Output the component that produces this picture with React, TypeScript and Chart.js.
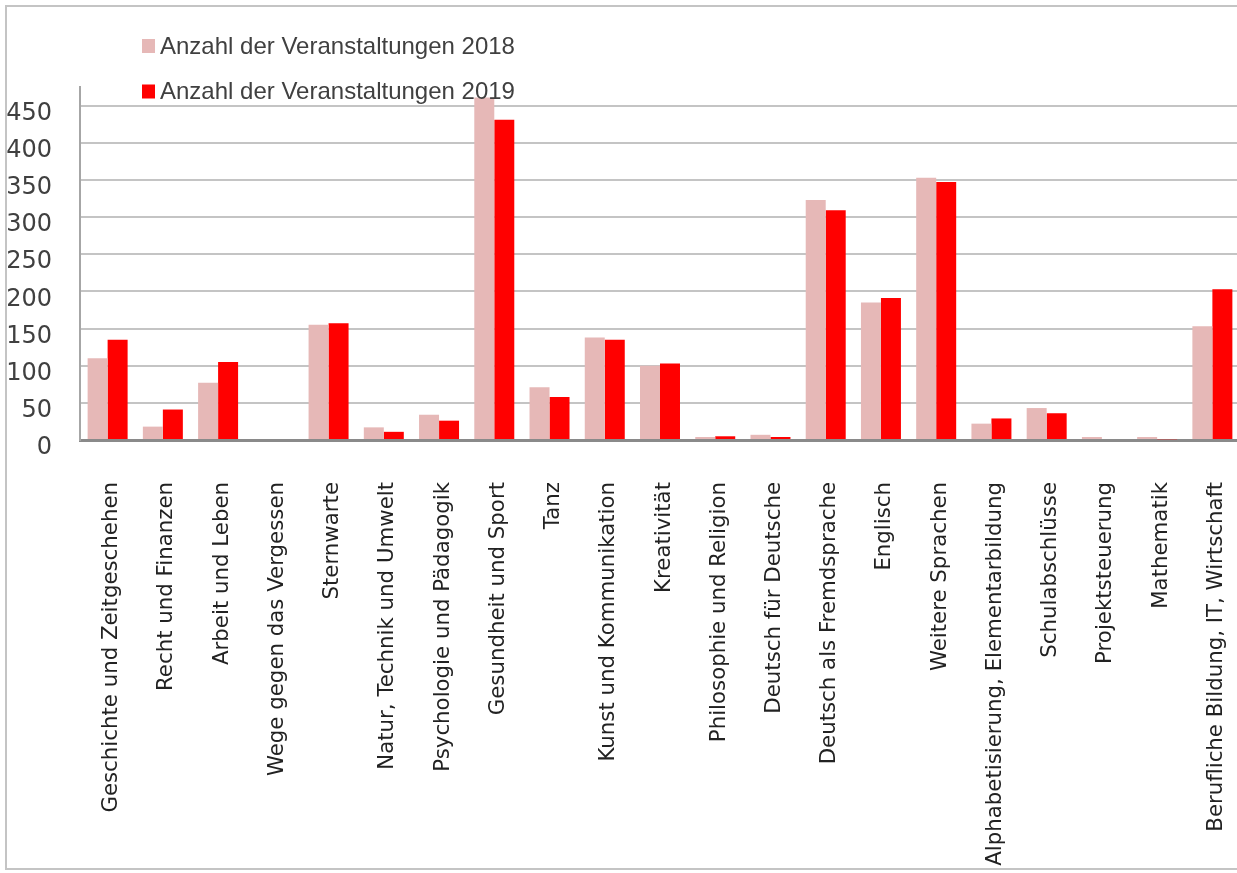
import React, { useEffect, useRef } from "react";
import { Chart, registerables } from "chart.js";

Chart.register(...registerables);

const categories: string[] = [
  "Geschichte und Zeitgeschehen",
  "Recht und Finanzen",
  "Arbeit und Leben",
  "Wege gegen das Vergessen",
  "Sternwarte",
  "Natur, Technik und Umwelt",
  "Psychologie und Pädagogik",
  "Gesundheit und Sport",
  "Tanz",
  "Kunst und Kommunikation",
  "Kreativität",
  "Philosophie und Religion",
  "Deutsch für Deutsche",
  "Deutsch als Fremdsprache",
  "Englisch",
  "Weitere Sprachen",
  "Alphabetisierung, Elementarbildung",
  "Schulabschlüsse",
  "Projektsteuerung",
  "Mathematik",
  "Berufliche Bildung, IT, Wirtschaft",
];

const values2018: number[] = [110, 18, 77, 0, 155, 17, 34, 461, 71, 138, 100, 4, 7, 323, 185, 353, 22, 43, 4, 4, 153];
const values2019: number[] = [135, 41, 105, 0, 157, 11, 26, 431, 58, 135, 103, 5, 4, 309, 191, 347, 29, 36, 0, 1, 203];

const seriesLabels: string[] = ["Anzahl der Veranstaltungen 2018", "Anzahl der Veranstaltungen 2019"];
const seriesColors: string[] = ["#E6B8B7", "#FF0000"];

const yMax = 475;
const yTicks: number[] = [0, 50, 100, 150, 200, 250, 300, 350, 400, 450];

const stackedLegend = {
  id: "stackedLegend",
  afterDraw(chart: any) {
    const ctx = chart.ctx;
    ctx.save();
    chart.data.datasets.forEach((ds: any, i: number) => {
      const top = 39 + i * 45.5;
      ctx.fillStyle = ds.backgroundColor;
      ctx.fillRect(142, top, 13, 14);
      ctx.fillStyle = "#404040";
      ctx.font = "24px 'Liberation Sans', Arial, sans-serif";
      ctx.textAlign = "left";
      ctx.textBaseline = "alphabetic";
      ctx.fillText(ds.label, 160, top + 14.5);
    });
    ctx.restore();
  },
};

export default function App() {
  const canvasRef = useRef<HTMLCanvasElement | null>(null);

  useEffect(() => {
    if (!canvasRef.current) return;
    const chart = new Chart(canvasRef.current, {
      type: "bar",
      data: {
        labels: categories,
        datasets: [
          {
            label: seriesLabels[0],
            data: values2018,
            backgroundColor: seriesColors[0],
            borderWidth: 0,
            categoryPercentage: 0.724,
            barPercentage: 1,
          },
          {
            label: seriesLabels[1],
            data: values2019,
            backgroundColor: seriesColors[1],
            borderWidth: 0,
            categoryPercentage: 0.724,
            barPercentage: 1,
          },
        ],
      },
      options: {
        animation: false,
        responsive: true,
        maintainAspectRatio: false,
        layout: { padding: { top: 87, left: 0, right: 0, bottom: 0 } },
        plugins: {
          legend: { display: false },
          tooltip: { enabled: false },
        },
        scales: {
          x: {
            grid: { display: false, drawTicks: false },
            border: { display: true, color: "#8a8a8a", width: 3 },
            ticks: {
              autoSkip: false,
              minRotation: 90,
              maxRotation: 90,
              padding: 42,
              labelOffset: 4,
              color: "#222222",
              font: { family: "'DejaVu Sans', sans-serif", size: 21.3 },
            },
            afterFit: (scale: any) => {
              scale.height = 433;
              scale.paddingLeft = 0;
              scale.paddingRight = 0;
            },
          },
          y: {
            min: 0,
            max: yMax,
            grid: {
              drawTicks: false,
              lineWidth: 2,
              color: (ctx: any) => (ctx.tick && ctx.tick.value === 0 ? "rgba(0,0,0,0)" : "#c4c4c4"),
            },
            border: { display: true, color: "#a6a6a6", width: 2 },
            ticks: {
              padding: 28,
              labelOffset: 8,
              color: "#404040",
              font: { family: "'DejaVu Sans', sans-serif", size: 24 },
            },
            afterBuildTicks: (scale: any) => {
              scale.ticks = yTicks.map((v) => ({ value: v }));
            },
            afterFit: (scale: any) => {
              scale.width = 80;
            },
          },
        },
      },
      plugins: [stackedLegend],
    });
    return () => chart.destroy();
  }, []);

  return (
    <div
      style={{
        position: "fixed",
        left: 0,
        top: 0,
        width: 1237,
        height: 873,
        overflow: "hidden",
        background: "#ffffff",
      }}
    >
      <div
        style={{
          position: "absolute",
          left: 5,
          top: 5,
          width: 1250,
          height: 865,
          border: "2px solid #c4c4c4",
          boxSizing: "border-box",
        }}
      />
      <div style={{ position: "absolute", left: 0, top: 0, width: 1240, height: 873 }}>
        <canvas ref={canvasRef} />
      </div>
    </div>
  );
}
